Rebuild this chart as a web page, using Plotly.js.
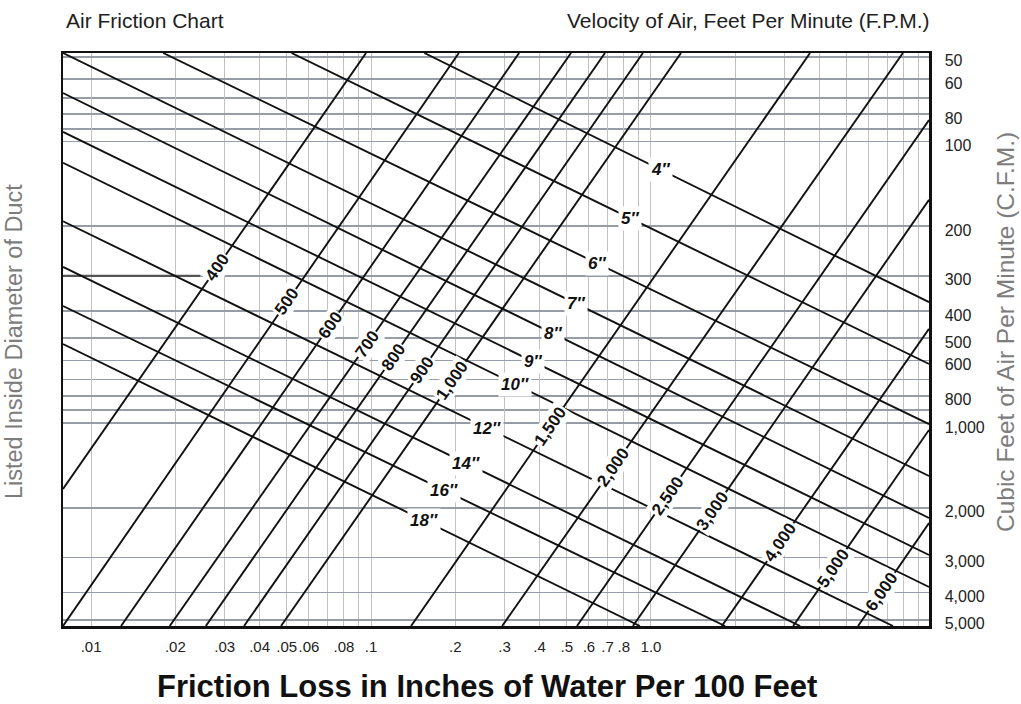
<!DOCTYPE html>
<html><head><meta charset="utf-8">
<script src="https://cdn.plot.ly/plotly-3.0.1.min.js"></script>
<style>html,body{margin:0;padding:0;background:#fff}#chart{width:1021px;height:704px}</style>
</head><body><div id="chart"></div>
<script>
// Axis ticks and grid
const frictionTickVals = [0.01,0.02,0.03,0.04,0.05,0.06,0.08,0.1,0.2,0.3,0.4,0.5,0.6,0.7,0.8,1.0];
const frictionTickText = ['.01','.02','.03','.04','.05','.06','.08','.1','.2','.3','.4','.5','.6','.7','.8','1.0'];
const frictionMinorGrid = [0.07,0.09,0.9,2,3,4,5,6,7,8,9];
const cfmTickVals = [50,60,80,100,200,300,400,500,600,800,1000,2000,3000,4000,5000];
const cfmTickText = ['50','60','80','100','200','300','400','500','600','800','1,000','2,000','3,000','4,000','5,000'];
const cfmMinorGrid = [70,90,700,900];
const frictionRange = [0.00794, 9.84];
const cfmRange = [48.5, 5257];

// Duct diameter lines (friction, CFM at both ends)
const ductLabels = ['4″','5″','6″','7″','8″','9″','10″','12″','14″','16″','18″'];
const ductStartFriction = [0.155,0.052,0.0181,0.00794,0.00794,0.00794,0.00794,0.00794,0.00794,0.00794,0.00794];
const ductStartCfm = [48.5,48.5,48.5,48.5,67.3,92.5,119,192,279,384,524];
const ductEndFriction = [9.84,9.84,9.84,9.84,9.84,9.84,9.84,7.32,3.41,1.84,0.913];
const ductEndCfm = [372,617,1009,1542,2173,2941,3821,5257,5257,5257,5257];
const ductLabelFriction = [1.08,0.84,0.641,0.54,0.447,0.379,0.327,0.26,0.218,0.182,0.155];

// Velocity lines (F.P.M.)
const velocityLabels = ['400','500','600','700','800','900','1,000','1,500','2,000','2,500','3,000','4,000','5,000','6,000'];
const velocityStartFriction = [0.00794,0.00794,0.0128,0.0191,0.0257,0.0352,0.0477,0.139,0.294,0.544,0.862,1.79,3.22,5.49];
const velocityStartCfm = [1715,5257,5257,5257,5257,5257,5257,5257,5257,5257,5257,5257,5257,5257];
const velocityEndFriction = [0.096,0.206,0.338,0.518,0.685,0.936,1.28,3.70,7.94,9.84,9.84,9.84,9.84,9.84];
const velocityEndCfm = [48.5,48.5,48.5,48.5,48.5,48.5,48.5,48.5,48.5,83.9,161,463,1058,2264];
const velocityLabelFriction = [0.0282,0.0501,0.0714,0.0968,0.12,0.152,0.195,0.436,0.732,1.15,1.665,2.89,4.47,6.68];

// Darker segment on the 300 CFM grid line at the left edge
const markSegmentFriction = [0.00794, 0.0245];
const markSegmentCfm = [300, 300];

const L = Math.log10;
const REG = '"Liberation Sans",Arial,Helvetica,sans-serif';
const HG = '#979ca9', VG = '#c2c2c6';

function onLine(f, f1, q1, f2, q2) {
  const t = (L(f) - L(f1)) / (L(f2) - L(f1));
  return L(q1) + t * (L(q2) - L(q1));
}

const traces = [];
traces.push({x: markSegmentFriction, y: markSegmentCfm, mode:'lines', line:{color:'#555', width:2.2}, hoverinfo:'skip'});
ductLabels.forEach((lab, i) => {
  traces.push({x:[ductStartFriction[i], ductEndFriction[i]], y:[ductStartCfm[i], ductEndCfm[i]],
    mode:'lines', line:{color:'#111', width:1.9}, hoverinfo:'skip'});
});
velocityLabels.forEach((lab, i) => {
  traces.push({x:[velocityStartFriction[i], velocityEndFriction[i]], y:[velocityStartCfm[i], velocityEndCfm[i]],
    mode:'lines', line:{color:'#111', width:1.9}, hoverinfo:'skip'});
});

const plotW = 1021 - 63 - 92, plotH = 704 - 53 - 78;
const pxPerDecX = plotW / (L(frictionRange[1]) - L(frictionRange[0]));
const pxPerDecY = plotH / (L(cfmRange[1]) - L(cfmRange[0]));

const annotations = [];
ductLabels.forEach((lab, i) => {
  const f = ductLabelFriction[i];
  annotations.push({x: L(f), y: onLine(f, ductStartFriction[i], ductStartCfm[i], ductEndFriction[i], ductEndCfm[i]),
    xref:'x', yref:'y', text: lab, showarrow:false, bgcolor:'#fff', borderpad:2,
    font:{family:REG, size:17, color:'#111', style:'italic', weight:'bold'}});
});
velocityLabels.forEach((lab, i) => {
  const f = velocityLabelFriction[i];
  const f1 = velocityStartFriction[i], q1 = velocityStartCfm[i], f2 = velocityEndFriction[i], q2 = velocityEndCfm[i];
  const slope = (L(q2) - L(q1)) / (L(f2) - L(f1));
  const ang = -Math.atan(Math.abs(slope) * pxPerDecY / pxPerDecX) * 180 / Math.PI;
  annotations.push({x: L(f), y: onLine(f, f1, q1, f2, q2), xref:'x', yref:'y', text: lab,
    showarrow:false, bgcolor:'#fff', borderpad:1, textangle: ang,
    font:{family:REG, size:17, color:'#111', weight:'bold'}});
});
annotations.push({xref:'paper', yref:'paper', x:0, y:1, xanchor:'left', yanchor:'middle', yshift:33, xshift:1,
  text:'Air Friction Chart', showarrow:false, font:{family:REG, size:21, color:'#1e1e1e'}});
annotations.push({xref:'paper', yref:'paper', x:1, y:1, xanchor:'right', yanchor:'middle', yshift:33, xshift:3,
  text:'Velocity of Air, Feet Per Minute (F.P.M.)', showarrow:false, font:{family:REG, size:21, color:'#1e1e1e'}});
annotations.push({xref:'paper', yref:'paper', x:0.49, y:0, xanchor:'center', yanchor:'middle', yshift:-60,
  text:'<b>Friction Loss in Inches of Water Per 100 Feet</b>', showarrow:false, font:{family:REG, size:31, color:'#111'}});
annotations.push({xref:'paper', yref:'paper', x:0, y:0.4956, xanchor:'center', yanchor:'middle', xshift:-49, textangle:-90,
  text:'Listed Inside Diameter of Duct', showarrow:false, font:{family:REG, size:23.5, color:'#7d7d7d'}});
annotations.push({xref:'paper', yref:'paper', x:1, y:0.513, xanchor:'center', yanchor:'middle', xshift:76, textangle:-90,
  text:'Cubic Feet of Air Per Minute (C.F.M.)', showarrow:false, font:{family:REG, size:24.5, color:'#7d7d7d'}});

const layout = {
  width:1021, height:704, margin:{l:63, r:92, t:53, b:78}, showlegend:false,
  paper_bgcolor:'#fff', plot_bgcolor:'#fff',
  xaxis:{type:'log', range:[L(frictionRange[0]), L(frictionRange[1])], tickmode:'array',
    tickvals:frictionTickVals, ticktext:frictionTickText, ticks:'', tickangle:0, showgrid:true, gridcolor:VG, gridwidth:1,
    minor:{tickmode:'array', tickvals:frictionMinorGrid, showgrid:true, gridcolor:VG, gridwidth:1, ticks:''},
    showline:true, mirror:true, linecolor:'#111', linewidth:2.5, zeroline:false,
    tickfont:{family:REG, size:15, color:'#222'}, ticklabelstandoff:5, fixedrange:true},
  yaxis:{type:'log', range:[L(cfmRange[1]), L(cfmRange[0])], side:'right', tickmode:'array',
    tickvals:cfmTickVals, ticktext:cfmTickText, ticks:'', showgrid:true, gridcolor:HG, gridwidth:1.8,
    minor:{tickmode:'array', tickvals:cfmMinorGrid, showgrid:true, gridcolor:HG, gridwidth:1.8, ticks:''},
    showline:true, mirror:true, linecolor:'#111', linewidth:2.5, zeroline:false,
    tickfont:{family:REG, size:16, color:'#222'}, ticklabelstandoff:10, ticklabelshift:-4, fixedrange:true},
  annotations: annotations
};
Plotly.newPlot('chart', traces, layout, {staticPlot:true, displayModeBar:false});
</script></body></html>
